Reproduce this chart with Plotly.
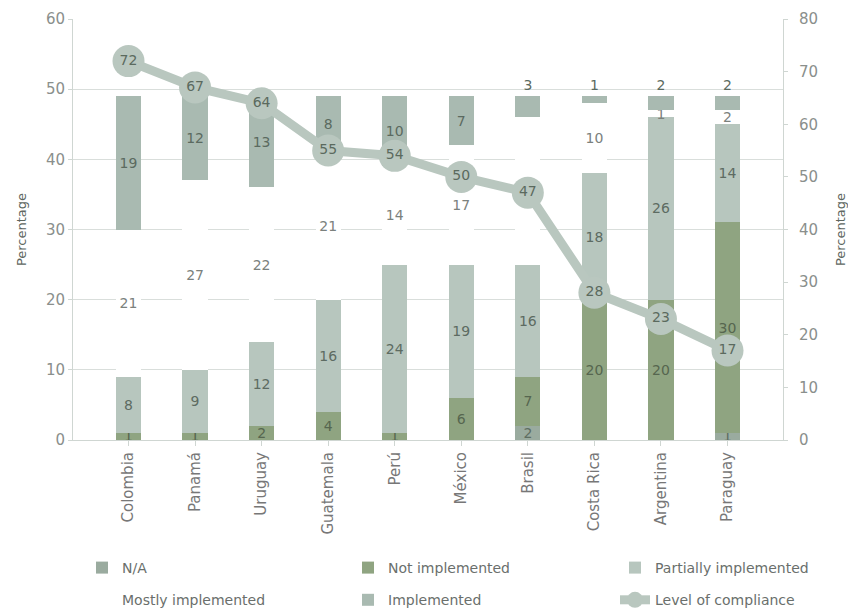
import plotly.graph_objects as go

countries = ["Colombia", "Panamá", "Uruguay", "Guatemala", "Perú",
             "México", "Brasil", "Costa Rica", "Argentina", "Paraguay"]
na = [0, 0, 0, 0, 0, 0, 2, 0, 0, 1]
not_impl = [1, 1, 2, 4, 1, 6, 7, 20, 20, 30]
partial = [8, 9, 12, 16, 24, 19, 16, 18, 26, 14]
mostly = [21, 27, 22, 21, 14, 17, 21, 10, 1, 2]
implemented = [19, 12, 13, 8, 10, 7, 3, 1, 2, 2]
compliance = [72, 67, 64, 55, 54, 50, 47, 28, 23, 17]

FONT = "DejaVu Sans"
series = [
    ("N/A", na, "#9aab9f", "#5e6e62", "legend"),
    ("Not implemented", not_impl, "#8fa481", "#56664f", "legend2"),
    ("Partially implemented", partial, "#b7c6be", "#5d6b62", "legend3"),
    ("Mostly implemented", mostly, "#ffffff", "#7b817d", "legend"),
    ("Implemented", implemented, "#a9bab1", "#5b6a60", "legend2"),
]

fig = go.Figure()
for name, vals, col, tcol, leg in series:
    if name == "Implemented":
        tpos = ["outside" if v <= 3 else "inside" for v in vals]
    else:
        tpos = "inside"
    fig.add_trace(go.Bar(
        name=name, x=countries, y=vals, legend=leg, legendgroup=name,
        marker=dict(color=col, line=dict(width=0)),
        text=[str(v) if v else "" for v in vals],
        textposition=tpos, insidetextanchor="middle", textangle=0,
        textfont=dict(family=FONT, size=14, color=tcol),
        yaxis="y",
    ))

fig.add_trace(go.Scatter(
    name="Level of compliance", x=countries, y=compliance, yaxis="y2",
    legend="legend3", legendgroup="lvl",
    mode="lines+markers+text",
    line=dict(color="#b9c7bf", width=9),
    marker=dict(color="#b9c7bf", size=32, symbol="circle"),
    text=[str(v) for v in compliance], textposition="middle center",
    textfont=dict(family=FONT, size=14, color="#5b6a5e"),
))

# plot area: x 73..783 px, y 19..440 px
def px_x(px):
    return (px - 73) / 710

legend_common = dict(
    orientation="v", xref="paper", yref="paper",
    y=(440 - 552) / 421, xanchor="left", yanchor="top",
    tracegroupgap=11, traceorder="grouped",
    font=dict(size=14, color="#6a6f6c"), bgcolor="rgba(0,0,0,0)",
)

fig.update_layout(
    width=848, height=610,
    margin=dict(l=73, r=65, t=19, b=170, autoexpand=False),
    barmode="stack", bargap=0.62,
    plot_bgcolor="white", paper_bgcolor="white",
    font=dict(family=FONT, color="#777777"),
    uniformtext=dict(minsize=14, mode="show"),
    xaxis=dict(
        tickangle=-90, tickfont=dict(size=15, color="#777777"),
        showline=True, linecolor="#cfd6d2", linewidth=1,
        ticks="outside", ticklen=5, tickcolor="#cfd6d2",
    ),
    yaxis=dict(
        range=[0, 60], dtick=10, showgrid=True, gridcolor="#d9dedb",
        showline=True, linecolor="#cfd6d2", zeroline=False,
        ticks="outside", ticklen=4, tickcolor="#cfd6d2",
        tickfont=dict(size=15, color="#8a8f8c"),
        title=dict(text="Percentage", font=dict(size=13, color="#5d6660"), standoff=16),
    ),
    yaxis2=dict(
        range=[0, 80], dtick=10, overlaying="y", side="right", showgrid=False,
        showline=True, linecolor="#cfd6d2", zeroline=False,
        ticks="outside", ticklen=4, tickcolor="#cfd6d2",
        tickfont=dict(size=15, color="#8a8f8c"), ticklabelstandoff=8,
        title=dict(text="Percentage", font=dict(size=13, color="#5d6660"), standoff=18),
    ),
    legend=dict(x=px_x(82), **legend_common),
    legend2=dict(x=px_x(348), **legend_common),
    legend3=dict(x=px_x(615), **legend_common),
    showlegend=True,
)

fig.write_html("out.html")
